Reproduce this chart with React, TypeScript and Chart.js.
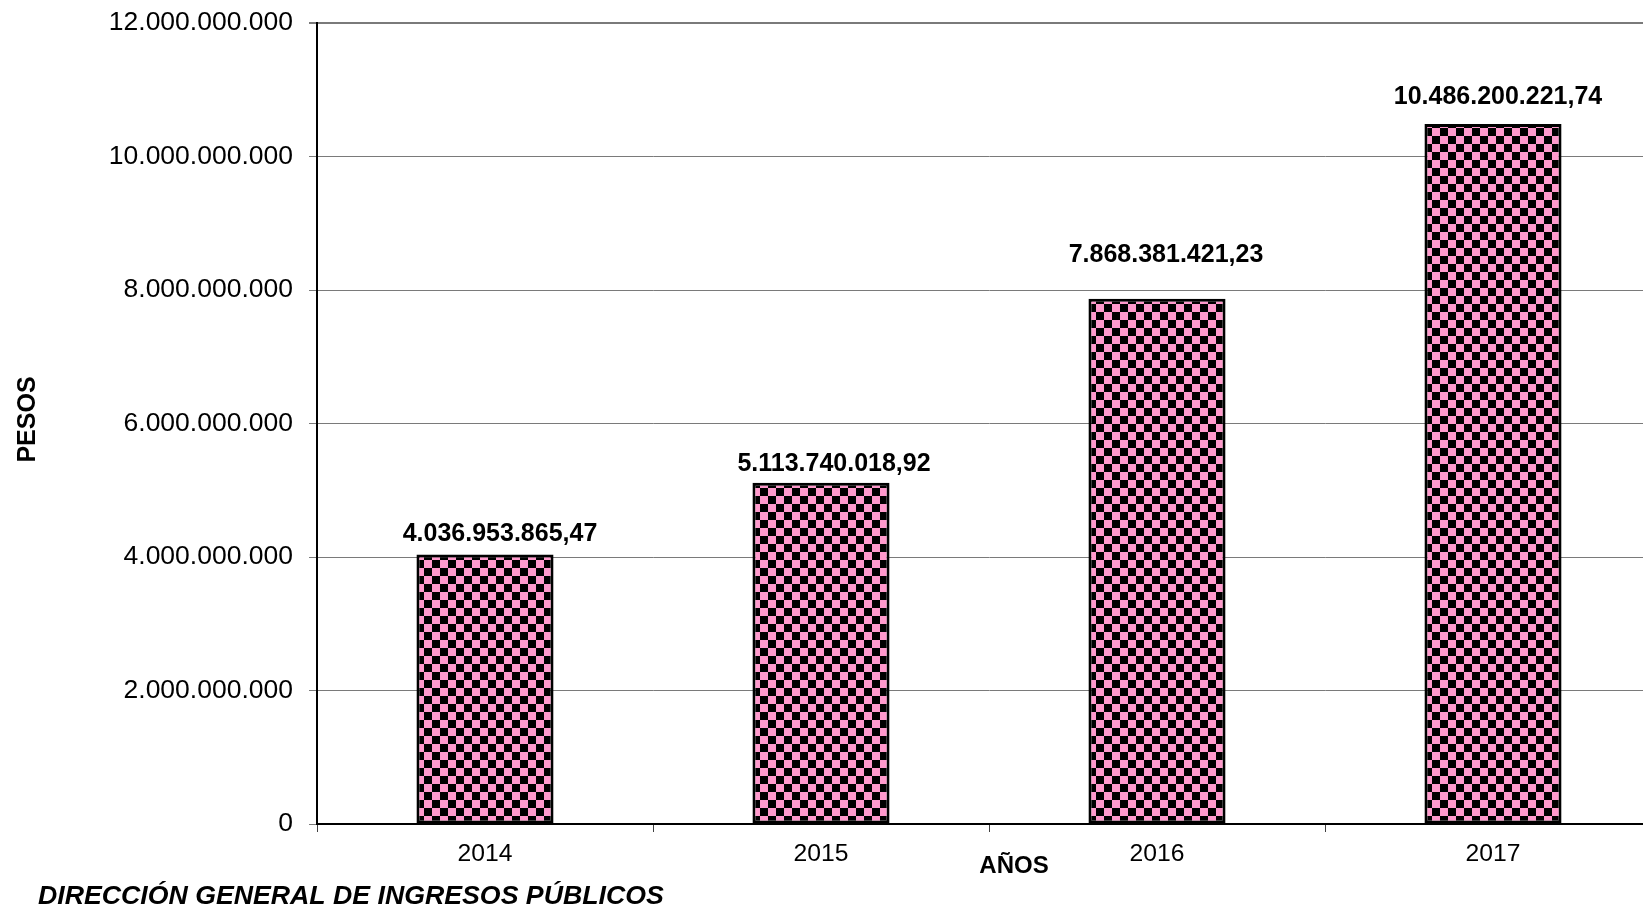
import React, { useEffect, useRef } from "react";
import { Chart, registerables } from "chart.js";

Chart.register(...registerables);

// ---- data ----
const categories = ["2014", "2015", "2016", "2017"];
const values = [4036953865.47, 5113740018.92, 7868381421.23, 10486200221.74];
const yMin = 0;
const yMax = 12000000000;
const yStep = 2000000000;

// ---- label styling (px between label baseline and bar top, horizontal shift) ----
const labelGaps = [14, 12, 37, 20];
const labelShiftX = [15, 13, 9, 5];

const FONT = '"Liberation Sans", Arial, sans-serif';
const PINK = "#ff99cc";

function fmt(v: number, decimals: number): string {
  const fixed = v.toFixed(decimals);
  const [intPart, dec] = fixed.split(".");
  const intF = intPart.replace(/\B(?=(\d{3})+(?!\d))/g, ".");
  return dec ? intF + "," + dec : intF;
}

function makePattern(ctx: CanvasRenderingContext2D): CanvasPattern | string {
  const pc = document.createElement("canvas");
  pc.width = 16;
  pc.height = 16;
  const p = pc.getContext("2d");
  if (!p) return PINK;
  p.fillStyle = PINK;
  p.fillRect(0, 0, 16, 16);
  p.fillStyle = "#000";
  p.fillRect(0, 0, 8, 8);
  p.fillRect(8, 8, 8, 8);
  return ctx.createPattern(pc, "repeat") || PINK;
}

const labelPlugin = {
  id: "valueLabels",
  afterDatasetsDraw(chart: any) {
    const ctx = chart.ctx as CanvasRenderingContext2D;
    const meta = chart.getDatasetMeta(0);
    ctx.save();
    ctx.font = `bold 25px ${FONT}`;
    ctx.fillStyle = "#000";
    ctx.textAlign = "center";
    ctx.textBaseline = "alphabetic";
    meta.data.forEach((bar: any, i: number) => {
      ctx.fillText(fmt(values[i], 2), bar.x + labelShiftX[i], bar.y - labelGaps[i]);
    });
    ctx.restore();
  },
};

const titlesPlugin = {
  id: "titles",
  afterDraw(chart: any) {
    const ctx = chart.ctx as CanvasRenderingContext2D;
    const area = chart.chartArea;
    ctx.save();
    ctx.fillStyle = "#000";
    // y axis title
    ctx.font = `bold 25px ${FONT}`;
    ctx.textAlign = "center";
    ctx.textBaseline = "middle";
    ctx.translate(28, (area.top + area.bottom) / 2 - 4);
    ctx.rotate(-Math.PI / 2);
    ctx.fillText("PESOS", 0, 0);
    ctx.restore();

    ctx.save();
    ctx.fillStyle = "#000";
    ctx.font = `bold 24px ${FONT}`;
    ctx.textAlign = "center";
    ctx.textBaseline = "alphabetic";
    ctx.fillText("AÑOS", 1014, 873);
    ctx.font = `italic bold 26.7px ${FONT}`;
    ctx.textAlign = "left";
    ctx.fillText("DIRECCIÓN GENERAL DE INGRESOS PÚBLICOS", 38, 904);
    ctx.restore();
  },
};

export default function App() {
  const ref = useRef<HTMLCanvasElement>(null);

  useEffect(() => {
    const canvas = ref.current;
    if (!canvas) return;
    const c2d = canvas.getContext("2d")!;
    const pattern = makePattern(c2d);

    const chart = new Chart(canvas, {
      type: "bar",
      data: {
        labels: categories,
        datasets: [
          {
            data: values,
            backgroundColor: pattern as any,
            borderColor: "#000",
            borderWidth: 3,
            borderSkipped: false,
            categoryPercentage: 1,
            barPercentage: 0.408,
          },
        ],
      },
      options: {
        responsive: false,
        animation: false,
        devicePixelRatio: 1,
        layout: { padding: { top: 23, right: 19, left: 0, bottom: 0 } },
        plugins: {
          legend: { display: false },
          tooltip: { enabled: false },
        },
        scales: {
          x: {
            grid: {
              offset: true,
              drawOnChartArea: false,
              drawTicks: true,
              tickLength: 8,
              color: "#404040",
              lineWidth: 1,
            },
            border: { display: true, color: "#000", width: 2 },
            ticks: {
              color: "#000",
              font: { family: FONT, size: 24.7 },
              padding: 7,
              maxRotation: 0,
            },
            afterFit: (scale: any) => {
              scale.height = 82;
              scale.paddingLeft = 0;
              scale.paddingRight = 0;
            },
          },
          y: {
            min: yMin,
            max: yMax,
            grid: {
              color: "#7a7a7a",
              lineWidth: (c: any) => (c.tick && c.tick.value === yMax ? 2 : 1),
              tickLength: 8,
            },
            border: { display: true, color: "#000", width: 2 },
            ticks: {
              stepSize: yStep,
              color: "#000",
              font: { family: FONT, size: 26.5, lineHeight: 1 },
              padding: 16,
              callback: (v: any) => fmt(Number(v), 0),
            },
            afterFit: (scale: any) => {
              scale.width = 317;
              scale.paddingTop = 0;
              scale.paddingBottom = 0;
            },
          },
        },
      },
      plugins: [labelPlugin, titlesPlugin],
    });

    return () => chart.destroy();
  }, []);

  return (
    <div
      style={{
        position: "fixed",
        left: 0,
        top: 0,
        width: 1643,
        height: 906,
        overflow: "hidden",
        background: "#fff",
      }}
    >
      <canvas
        ref={ref}
        width={1680}
        height={906}
        style={{ display: "block", width: 1680, height: 906 }}
      />
    </div>
  );
}
